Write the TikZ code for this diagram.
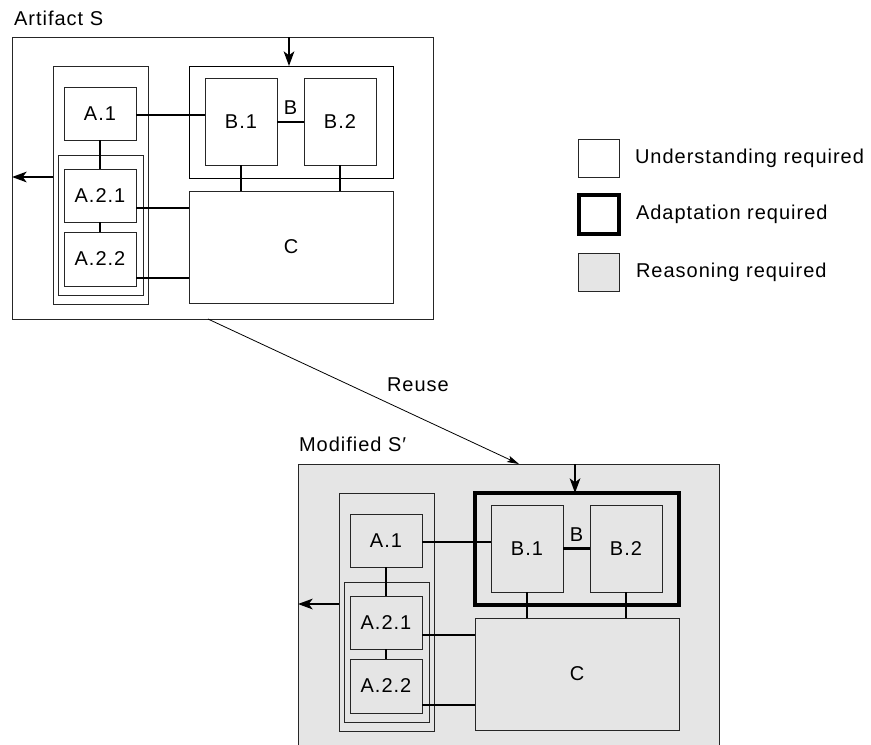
\documentclass[tikz,border=0pt]{standalone}
\usepackage{fontspec}
\setmainfont{Liberation Sans}[LetterSpace=5.0]
\usetikzlibrary{arrows.meta}
\definecolor{reason}{HTML}{E5E5E5}
\tikzset{
  box/.style={draw=black!85, line width=0.75pt, inner sep=0pt, outer sep=0pt},
  conn/.style={line width=1.5pt},
  arr/.style={line width=1.5pt, -{Stealth[length=11pt,width=8pt,inset=3pt]}},
  reusearr/.style={line width=0.6pt, -{Stealth[length=9pt,width=5pt,inset=2pt]}},
  txt/.style={inner sep=0pt, outer sep=0pt},
}
% box from pixel corners: #1 options, #2 name, #3 x1, #4 y1, #5 x2, #6 y2, #7 text
\newcommand\bx[7]{%
  \pgfmathsetmacro\bxcx{(#3+#5)/2}%
  \pgfmathsetmacro\bxcy{(#4+#6)/2}%
  \pgfmathsetmacro\bxw{(#5-#3)*0.75}%
  \pgfmathsetmacro\bxh{(#6-#4)*0.75}%
  \node[box, minimum width=\bxw pt, minimum height=\bxh pt, #1] (#2) at (\bxcx,\bxcy) {#7};%
}
% #1 prefix, #2 fill, #3 outer bottom (px), #4 B-group line width, #5 B connector width
\newcommand\artifactdraw[5]{%
  \bx{fill=#2}{#1out}{12}{37}{433}{#3}{}
  \bx{fill=#2}{#1ag}{53}{66}{148}{304}{}
  \bx{fill=#2}{#1atwo}{58}{155}{143}{295}{}
  \bx{fill=#2}{#1a1}{64}{87}{136}{140}{A.1}
  \bx{fill=#2}{#1a21}{64}{169}{136}{222}{A.2.1}
  \bx{fill=#2}{#1a22}{64}{232}{136}{286}{A.2.2}
  \bx{fill=#2, line width=#4, draw=black}{#1bg}{189}{66}{393}{178}{}
  \bx{fill=#2}{#1b1}{205}{78}{277}{165}{B.1}
  \bx{fill=#2}{#1b2}{304}{78}{376}{165}{B.2}
  \bx{fill=#2}{#1c}{189}{191}{393}{303}{C}
  \draw[conn] ([yshift=-1.1pt]#1a1.east) -- ([yshift=-1.1pt]#1a1.east -| #1b1.west);
  \draw[line width=#5] (#1b1.east) -- node[txt, midway, anchor=base, yshift=5.25pt] (#1blab) {B} (#1b2.west);
  \draw[conn] (#1a1.south) -- (#1a21.north);
  \draw[conn] (#1a21.south) -- (#1a22.north);
  \draw[conn] ([yshift=-9.4pt]#1a21.east) -- ([yshift=-9.4pt]#1a21.east -| #1c.west);
  \draw[conn] ([yshift=-14.25pt]#1a22.east) -- ([yshift=-14.25pt]#1a22.east -| #1c.west);
  \draw[conn] (#1b1.south) -- (#1b1.south |- #1c.north);
  \draw[conn] (#1b2.south) -- (#1b2.south |- #1c.north);
  \draw[arr] ([xshift=-1.5pt]#1bg.north |- #1out.north) -- ([xshift=-1.5pt]#1bg.north);
  \draw[arr] ([yshift=6pt]#1ag.west) -- ([yshift=6pt]#1ag.west -| #1out.west);
}
\begin{document}
\begin{tikzpicture}[x=0.75pt, y=-0.75pt, font=\fontsize{15pt}{18pt}\selectfont]
  \useasboundingbox (0,0) rectangle (871,744);
  % top artifact
  \artifactdraw{t}{white}{319}{0.75pt}{1.5pt}
  \node[txt, anchor=base west] (tlabel) at (14,25.5) {Artifact S};
  % modified artifact
  \begin{scope}[shift={(286,427)}]
    \artifactdraw{m}{reason}{321}{3pt}{2.4pt}
  \end{scope}
  \node[txt, anchor=base west] (mlabel) at (299,451) {Modified S′};
  % reuse connector
  \draw[reusearr] ([xshift=-10.9pt]tout.south) -- ([xshift=7.9pt]mout.north);
  \node[txt, anchor=base west] (reuse) at (387,391) {Reuse};
  % legend
  \bx{}{l1}{578}{139}{619}{177}{}
  \bx{draw=black, line width=3pt}{l2}{579}{195}{619}{234}{}
  \bx{fill=reason}{l3}{578}{253}{619}{291}{}
  \node[txt, anchor=west] (l1t) at ([xshift=12pt]l1.east) {Understanding required};
  \node[txt, anchor=west] (l2t) at ([xshift=12.75pt]l2.east) {Adaptation required};
  \node[txt, anchor=west] (l3t) at ([xshift=12.75pt]l3.east) {Reasoning required};
\end{tikzpicture}
\end{document}
